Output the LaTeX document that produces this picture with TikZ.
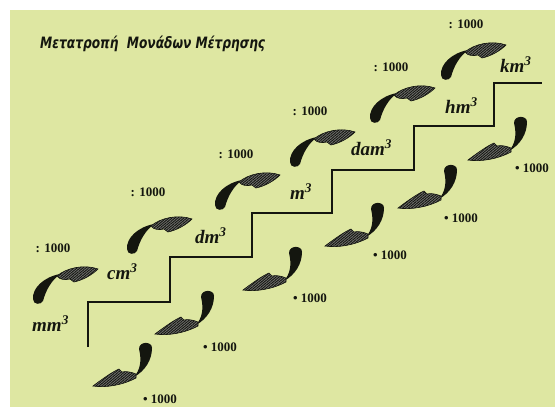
\documentclass[tikz,border=0pt]{standalone}
\usepackage{fontspec}
\setmainfont{Liberation Serif}
\newfontfamily\titlefont{DejaVu Sans}
\usetikzlibrary{patterns.meta}
\definecolor{bgc}{RGB}{222,231,162}
\definecolor{ink}{RGB}{20,22,15}
\tikzset{
  hatchfill/.style={preaction={fill=black!55}, pattern={Lines[angle=40,distance=1.9pt,line width=0.9pt]}, pattern color=ink, draw=ink, line width=0.6pt},
  tailfill/.style={fill=ink},
  uparr/.pic={
    \fill[tailfill] (-5,-3) .. controls (-6,-14) and (6,-25) .. (22,-28) .. controls (13,-21) and (8,-12) .. (5,-1) .. controls (3,3) and (-5,3) .. (-5,-3) -- cycle;
    \path[hatchfill] (19,-26) .. controls (28,-34) and (46,-38) .. (60,-33) .. controls (54,-27) and (45,-22) .. (36,-20) -- (32,-23) .. controls (27,-22) and (22,-22) .. (19,-26) -- cycle;
  },
  downarr/.pic={
    \fill[tailfill] (-9,6) .. controls (-9,-2) and (4,-2) .. (4,5) .. controls (4,17) and (-3,28) .. (-14,34) .. controls (-8,27) and (-6,18) .. (-9,6) -- cycle;
    \path[hatchfill] (-12,31) .. controls (-17,29) and (-22,28) .. (-26,29) -- (-29,26) .. controls (-36,29) and (-47,37) .. (-55,43) .. controls (-42,45) and (-25,42) .. (-12,35) -- cycle;
  },
  unit/.style={font=\fontsize{19}{19}\selectfont\bfseries\itshape, text=ink, inner sep=0pt, anchor=base west},
  num/.style={font=\fontsize{13}{13}\selectfont\bfseries, text=ink, inner sep=0pt},
  stairline/.style={draw=ink, line width=2.2pt}
}
\begin{document}
\begin{tikzpicture}[x=1pt,y=-1pt]
\useasboundingbox (0,0) rectangle (555,407);
\clip (0,0) rectangle (555,407);
\fill[bgc] (10,10) rectangle (555,407);
% title
\node[anchor=base west, inner sep=0pt, text=ink] (title) at (40,48)
  {\resizebox{225pt}{12.5pt}{\titlefont\bfseries\itshape Μετατροπή\ \ Μονάδων Μέτρησης}};
% staircase
\draw[stairline] (88,347) -- (88,302) -- (170,302) -- (170,257) -- (252,257) -- (252,213)
  -- (332,213) -- (332,170) -- (414,170) -- (414,126) -- (494,126) -- (494,83) -- (542,83);
% units
\node[unit] (mm) at (32,331) {mm\textsuperscript{3}};
\node[unit] (cm) at (107,279) {cm\textsuperscript{3}};
\node[unit] (dm) at (195,243) {dm\textsuperscript{3}};
\node[unit] (m)  at (290,199) {m\textsuperscript{3}};
\node[unit] (dam) at (351,155) {dam\textsuperscript{3}};
\node[unit] (hm) at (445,113) {hm\textsuperscript{3}};
\node[unit] (km) at (500,72) {km\textsuperscript{3}};
% divide labels
\node[num] (d1) at (53,248) {: 1000};
\node[num] (d2) at (148,192) {: 1000};
\node[num] (d3) at (236,154) {: 1000};
\node[num] (d4) at (310,111) {: 1000};
\node[num] (d5) at (391,67) {: 1000};
\node[num] (d6) at (466,24) {: 1000};
% multiply labels
\node[num] (p1) at (160,399) {• 1000};
\node[num] (p2) at (220,347) {• 1000};
\node[num] (p3) at (310,298) {• 1000};
\node[num] (p4) at (390,255) {• 1000};
\node[num] (p5) at (461,218) {• 1000};
\node[num] (p6) at (532,168) {• 1000};
% upward arrows
\pic at (38,302) {uparr};
\pic at (132,252) {uparr};
\pic at (220,208) {uparr};
\pic at (295,165) {uparr};
\pic at (375,121) {uparr};
\pic at (446,78) {uparr};
% downward arrows
\pic at (148,343) {downarr};
\pic at (210,291) {downarr};
\pic at (298,247) {downarr};
\pic at (380,203) {downarr};
\pic at (453,165) {downarr};
\pic at (523,117) {downarr};
\end{tikzpicture}
\end{document}
